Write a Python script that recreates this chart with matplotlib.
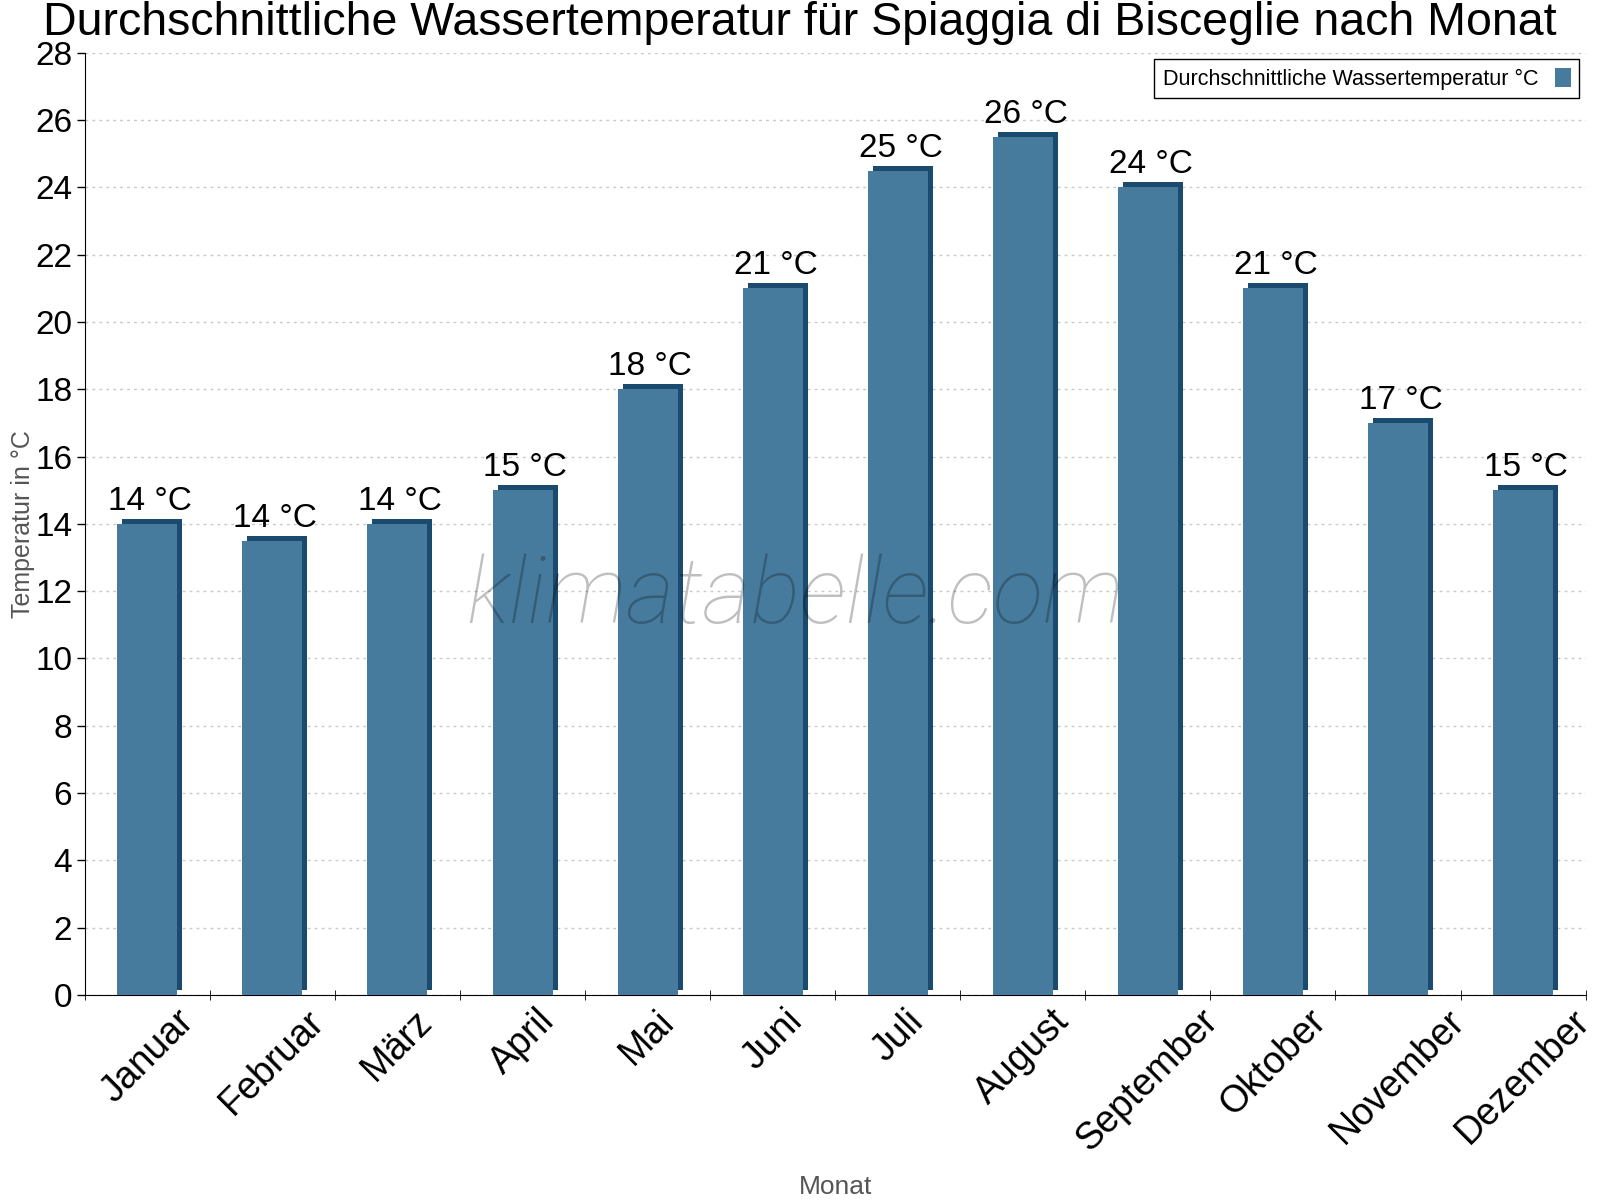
import matplotlib.pyplot as plt
import matplotlib.transforms as mtransforms
import numpy as np

plt.rcParams['font.family'] = ['Liberation Sans', 'DejaVu Sans']

monate = ['Januar', 'Februar', 'März', 'April', 'Mai', 'Juni', 'Juli',
          'August', 'September', 'Oktober', 'November', 'Dezember']
temperatur = [14, 13.5, 14, 15, 18, 21, 24.5, 25.5, 24, 21, 17, 15]
beschriftung = ['14 °C', '14 °C', '14 °C', '15 °C', '18 °C', '21 °C', '25 °C',
                '26 °C', '24 °C', '21 °C', '17 °C', '15 °C']

vorne = '#467b9e'
dunkel = '#1a4a6e'

fig = plt.figure(figsize=(16, 12), dpi=100)
ax = fig.add_axes([0.053, 0.171, 0.938, 0.785])

x = np.arange(len(monate))
breite = 0.48

# 3D look: dark copy shifted up/right, front bar on top
versatz = mtransforms.offset_copy(ax.transData, fig=fig, x=5, y=5, units='dots')
ax.bar(x, temperatur, width=breite, color=dunkel, transform=versatz, zorder=2)
ax.bar(x, temperatur, width=breite, color=vorne, zorder=3,
       label='Durchschnittliche Wassertemperatur °C')

for xi, wert, txt in zip(x, temperatur, beschriftung):
    ax.annotate(txt, (xi, wert), xytext=(2, 5), textcoords='offset points',
                ha='center', va='bottom', fontsize=24, zorder=4)

ax.set_xlim(-0.5, len(monate) - 0.5)
ax.set_ylim(0, 28)
ax.set_yticks(range(0, 29, 2))
ax.tick_params(axis='y', labelsize=24, length=6, width=1, pad=3)
ax.set_xticks(x)
ax.set_xticklabels(monate, rotation=45, ha='center', fontsize=27)
ax.tick_params(axis='x', length=0, pad=6)
ax.set_xticks(np.arange(-0.5, len(monate)), minor=True)
ax.tick_params(axis='x', which='minor', length=7, direction='inout')

ax.yaxis.grid(True, linestyle=(0, (2, 3)), color='#c8c8c8', linewidth=1)
ax.set_axisbelow(True)
ax.spines['top'].set_visible(False)
ax.spines['right'].set_visible(False)

ax.set_ylabel('Temperatur in °C', fontsize=18, color='#555555', labelpad=0)
ax.set_xlabel('Monat', fontsize=19, color='#555555', labelpad=12)
fig.text(0.5, 0.9705, 'Durchschnittliche Wassertemperatur für Spiaggia di Bisceglie nach Monat',
         fontsize=33.5, ha='center', va='baseline')

ax.text(0.473, 0.395, 'klimatabelle.com', transform=ax.transAxes, fontsize=67,
        style='italic', color='black', alpha=0.25, ha='center', va='baseline',
        family=['Roboto', 'Liberation Sans'], fontweight='light', zorder=5)

leg = ax.legend(loc='upper right', fontsize=15.5, markerfirst=False, fancybox=False,
                framealpha=1, edgecolor='black', handlelength=0.7, handleheight=1.0,
                borderaxespad=0.3, bbox_to_anchor=(1.0, 1.0))
leg.get_frame().set_linewidth(1)

fig.savefig('out.png', dpi=100)
